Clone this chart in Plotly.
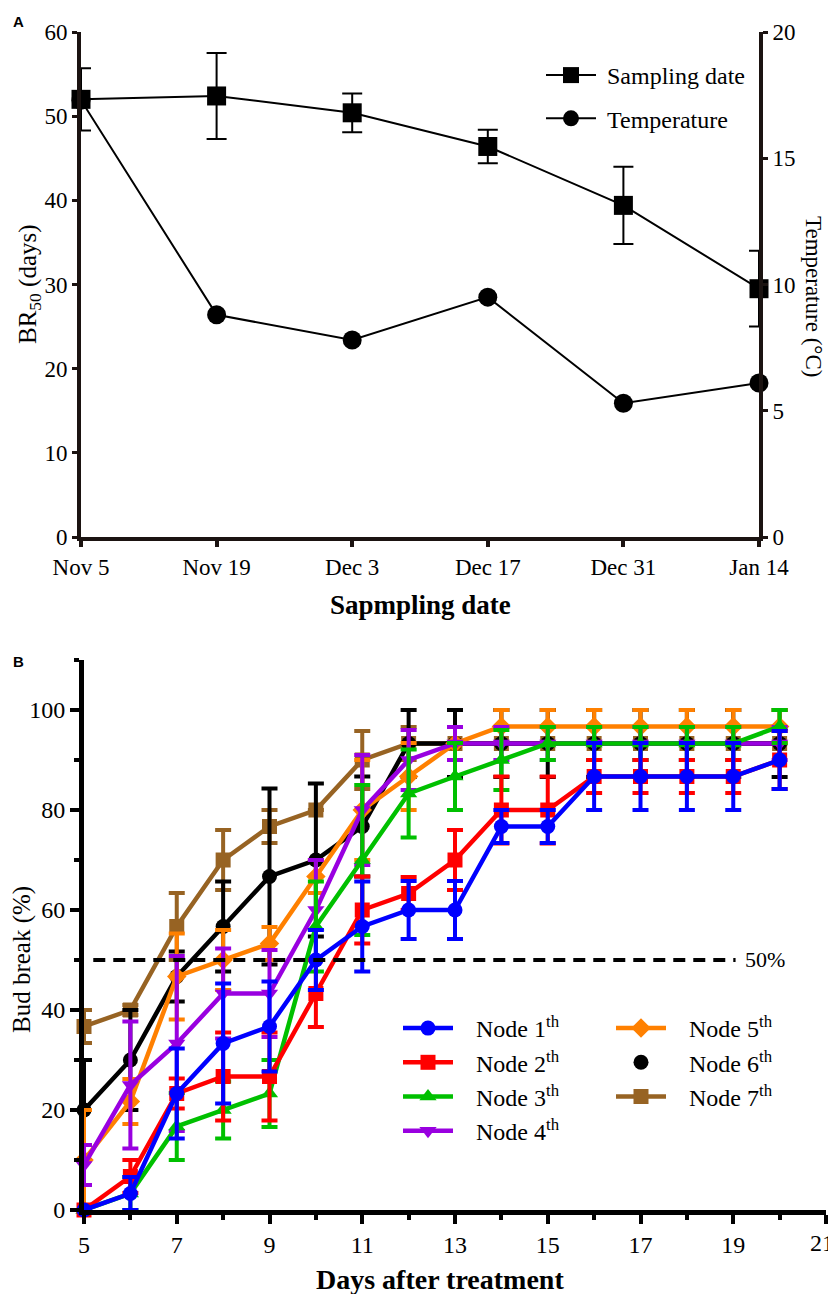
import plotly.graph_objects as go

# ---------------- Panel A data ----------------
dates = ["Nov 5", "Nov 19", "Dec 3", "Dec 17", "Dec 31", "Jan 14"]
br50 = [52.0, 52.4, 50.4, 46.4, 39.4, 29.5]
br50_err = [3.7, 5.1, 2.3, 2.0, 4.6, 4.5]
temperature = [17.3, 8.8, 7.8, 9.5, 5.3, 6.1]
br50_ticks = [0, 10, 20, 30, 40, 50, 60]
temp_ticks = [0, 5, 10, 15, 20]

# ---------------- Panel B data ----------------
days = [5, 6, 7, 8, 9, 10, 11, 12, 13, 14, 15, 16, 17, 18, 19, 20]
node1 = [0, 3.3, 23.3, 33.3, 36.7, 50, 56.7, 60, 60, 76.7, 76.7, 86.7, 86.7, 86.7, 86.7, 90]
node1_err = [0, 3.3, 9, 12, 9, 6, 9, 5.8, 5.8, 3.3, 3.3, 6.7, 6.7, 6.7, 6.7, 5.8]
node2 = [0, 6.7, 23.3, 26.7, 26.7, 43.3, 60, 63.3, 70, 80, 80, 86.7, 86.7, 86.7, 86.7, 90]
node2_err = [0, 3.3, 3, 8.8, 8.8, 6.7, 6.7, 3.3, 6, 6.7, 6.7, 3.3, 3.3, 3.3, 3.3, 5.8]
node3 = [0, 3.3, 16.7, 20, 23.3, 56.7, 70, 83.3, 86.7, 90, 93.3, 93.3, 93.3, 93.3, 93.3, 96.7]
node3_err = [0, 3.3, 6.7, 5.7, 6.7, 9, 15, 8.8, 6.7, 6, 3.3, 3.3, 3.3, 3.3, 3.3, 3.3]
node4 = [9, 25, 33.3, 43.3, 43.3, 60, 80, 90, 93.3, 93.3, 93.3, 93.3, 93.3, 93.3, 93.3, 93.3]
node4_err = [4, 12.7, 17.5, 9, 8.7, 10, 11, 6, 3.3, 3.3, 3.3, 3.3, 3.3, 3.3, 3.3, 3.3]
node5 = [10, 21.7, 46.7, 50, 53.3, 66.7, 80, 86.7, 93.3, 96.7, 96.7, 96.7, 96.7, 96.7, 96.7, 96.7]
node5_err = [10, 4.5, 8.6, 6, 3.3, 3.3, 10, 6.7, 3.3, 3.3, 3.3, 3.3, 3.3, 3.3, 3.3, 3.3]
node6 = [20, 30, 46.7, 56.7, 66.7, 70, 76.7, 93.3, 93.3, 93.3, 93.3, 93.3, 93.3, 93.3, 93.3, 93.3]
node6_err = [10, 10, 5, 9, 17.6, 15.3, 10, 6.7, 6.7, 6.7, 6.7, 6.7, 6.7, 6.7, 6.7, 6.7]
node7 = [36.7, 40, 56.7, 70, 76.7, 80, 90, 93.3, 93.3, 93.3, 93.3, 93.3, 93.3, 93.3, 93.3, 93.3]
node7_err = [3.3, 1, 6.7, 6, 3.3, 0, 5.8, 3.3, 0, 0, 0, 0, 0, 0, 0, 0]
day_ticks = [5, 7, 9, 11, 13, 15, 17, 19, 21]
bud_ticks = [0, 20, 40, 60, 80, 100]
threshold = 50

W, H = 828, 1294
SERIF = "Liberation Serif, Times New Roman, serif"
AX = "#1b1311"
NB = "\u00a0"


def px(x):
    return x / W


def py(y):
    return 1 - y / H


fig = go.Figure()

# ---------- Panel A ----------
fig.add_trace(go.Scatter(
    x=dates, y=temperature, name=NB + "Temperature", mode="lines+markers",
    xaxis="x", yaxis="y2", legend="legend", legendrank=2, legendgroup="temp",
    line=dict(color="black", width=2),
    marker=dict(symbol="circle", size=19, color="black"),
    cliponaxis=False))
fig.add_trace(go.Scatter(
    x=dates, y=br50, name=NB + "Sampling date", mode="lines+markers",
    xaxis="x", yaxis="y", legend="legend", legendrank=1, legendgroup="samp",
    line=dict(color="black", width=2),
    marker=dict(symbol="square", size=19, color="black"),
    error_y=dict(type="data", array=br50_err, color="black", thickness=2, width=10),
    cliponaxis=False))

# ---------- Panel B ----------
series = [
    ("Node 7<sup>th</sup>", node7, node7_err, "#976323", "square", 7, "legend3"),
    ("Node 6<sup>th</sup>", node6, node6_err, "#000000", "circle", 6, "legend3"),
    ("Node 5<sup>th</sup>", node5, node5_err, "#FF8000", "diamond", 5, "legend3"),
    ("Node 4<sup>th</sup>", node4, node4_err, "#9900E0", "triangle-down", 4, "legend2"),
    ("Node 3<sup>th</sup>", node3, node3_err, "#00C000", "triangle-up", 3, "legend2"),
    ("Node 2<sup>th</sup>", node2, node2_err, "#FF0000", "square", 2, "legend2"),
    ("Node 1<sup>th</sup>", node1, node1_err, "#0000FF", "circle", 1, "legend2"),
]
for name, vals, errs, col, sym, rank, leg in series:
    is6 = rank == 6
    fig.add_trace(go.Scatter(
        x=days, y=vals, name=NB * 3 + name, mode="lines+markers",
        xaxis="x2", yaxis="y3", legend=leg, legendrank=rank,
        showlegend=not is6,
        line=dict(color=col, width=4.5),
        marker=dict(symbol=sym, size=15, color=col),
        error_y=dict(type="data", array=errs, color=col, thickness=4, width=8),
        cliponaxis=False))
    if is6:
        fig.add_trace(go.Scatter(
            x=[None], y=[None], name=NB * 3 + name, mode="markers",
            xaxis="x2", yaxis="y3", legend=leg, legendrank=rank,
            marker=dict(symbol="circle", size=15, color=col)))

fig.add_shape(type="line", xref="x2", yref="y3", x0=5.2, x1=19.05,
              y0=threshold, y1=threshold,
              line=dict(color="black", width=4, dash="12px,8px"))

common = dict(showgrid=False, zeroline=False, showline=True, ticks="outside",
              automargin=False)
tick_font_a = dict(family=SERIF, size=23, color="black")
tick_font_b = dict(family=SERIF, size=24, color="black")

fig.update_layout(
    width=W, height=H, margin=dict(l=0, r=0, t=0, b=0, autoexpand=False),
    font=dict(family=SERIF, color="black"),
    paper_bgcolor="white", plot_bgcolor="white",
    xaxis=dict(domain=[px(81), px(759)], anchor="y", type="category", range=[0, 5],
               linewidth=4, linecolor=AX, ticklen=6, tickwidth=4, tickcolor=AX,
               tickfont=tick_font_a, **common),
    yaxis=dict(domain=[py(537), py(32)], anchor="x", range=[0, 60], tickvals=br50_ticks,
               linewidth=4, linecolor=AX, ticklen=5, tickwidth=3, tickcolor=AX,
               tickfont=tick_font_a, **common),
    yaxis2=dict(overlaying="y", side="right", anchor="x", range=[0, 20], tickvals=temp_ticks,
                linewidth=4, linecolor=AX, ticklen=5, tickwidth=3, tickcolor=AX,
                tickfont=tick_font_a, **common),
    xaxis2=dict(domain=[px(84), px(826)], anchor="y3", range=[5, 21], tickvals=day_ticks,
                linewidth=5, linecolor="black", ticklen=9, tickwidth=4, tickcolor="black",
                tickfont=tick_font_b,
                minor=dict(dtick=1, tick0=5, ticklen=5, tickwidth=4, ticks="outside",
                           tickcolor="black"),
                **common),
    yaxis3=dict(domain=[py(1210), py(660)], anchor="x2", range=[0, 110], tickvals=bud_ticks,
                linewidth=5, linecolor="black", ticklen=9, tickwidth=4, tickcolor="black",
                tickfont=tick_font_b,
                minor=dict(dtick=10, tick0=0, ticklen=5, tickwidth=4, ticks="outside",
                           tickcolor="black"),
                **common),
    legend=dict(x=px(541), y=py(53), xanchor="left", yanchor="top",
                font=dict(family=SERIF, size=24, color="black"),
                bgcolor="rgba(0,0,0,0)", traceorder="grouped", tracegroupgap=9,
                itemwidth=50),
    legend2=dict(x=px(398), y=py(1006), xanchor="left", yanchor="top",
                 font=dict(family=SERIF, size=24, color="black"),
                 bgcolor="rgba(0,0,0,0)", itemwidth=50),
    legend3=dict(x=px(611), y=py(1006), xanchor="left", yanchor="top",
                 font=dict(family=SERIF, size=24, color="black"),
                 bgcolor="rgba(0,0,0,0)", itemwidth=50),
    annotations=[
        dict(text="<b>A</b>", x=px(11), y=py(22), xref="paper", yref="paper",
             xanchor="left", yanchor="middle", showarrow=False,
             font=dict(family="Liberation Sans", size=15, color="black")),
        dict(text="<b>B</b>", x=px(11), y=py(661), xref="paper", yref="paper",
             xanchor="left", yanchor="middle", showarrow=False,
             font=dict(family="Liberation Sans", size=15, color="black")),
        dict(text="BR<sub>50</sub> (days)", x=px(29), y=py(284), xref="paper", yref="paper",
             xanchor="center", yanchor="middle", showarrow=False, textangle=-90,
             font=dict(family=SERIF, size=25, color="black")),
        dict(text="Temperature (°C)", x=px(814), y=py(296), xref="paper", yref="paper",
             xanchor="center", yanchor="middle", showarrow=False, textangle=90,
             font=dict(family=SERIF, size=23, color="black")),
        dict(text="<b>Sapmpling date</b>", x=px(420), y=py(605), xref="paper", yref="paper",
             xanchor="center", yanchor="middle", showarrow=False,
             font=dict(family=SERIF, size=27, color="black")),
        dict(text="Bud break (%)", x=px(22), y=py(960), xref="paper", yref="paper",
             xanchor="center", yanchor="middle", showarrow=False, textangle=-90,
             font=dict(family=SERIF, size=25, color="black")),
        dict(text="<b>Days after treatment</b>", x=px(440), y=py(1279), xref="paper", yref="paper",
             xanchor="center", yanchor="middle", showarrow=False,
             font=dict(family=SERIF, size=28, color="black")),
        dict(text="50%", x=19.2, y=threshold, xref="x2", yref="y3",
             xanchor="left", yanchor="middle", showarrow=False,
             font=dict(family=SERIF, size=22, color="black")),
        # last tick label sits on the page edge; plotly drops it, so draw it here
        dict(text=str(day_ticks[-1]), x=day_ticks[-1], y=py(1243), xref="x2", yref="paper",
             xanchor="center", yanchor="middle", showarrow=False, xshift=-4,
             font=tick_font_b),
    ],
)

fig.write_html("out.html")
